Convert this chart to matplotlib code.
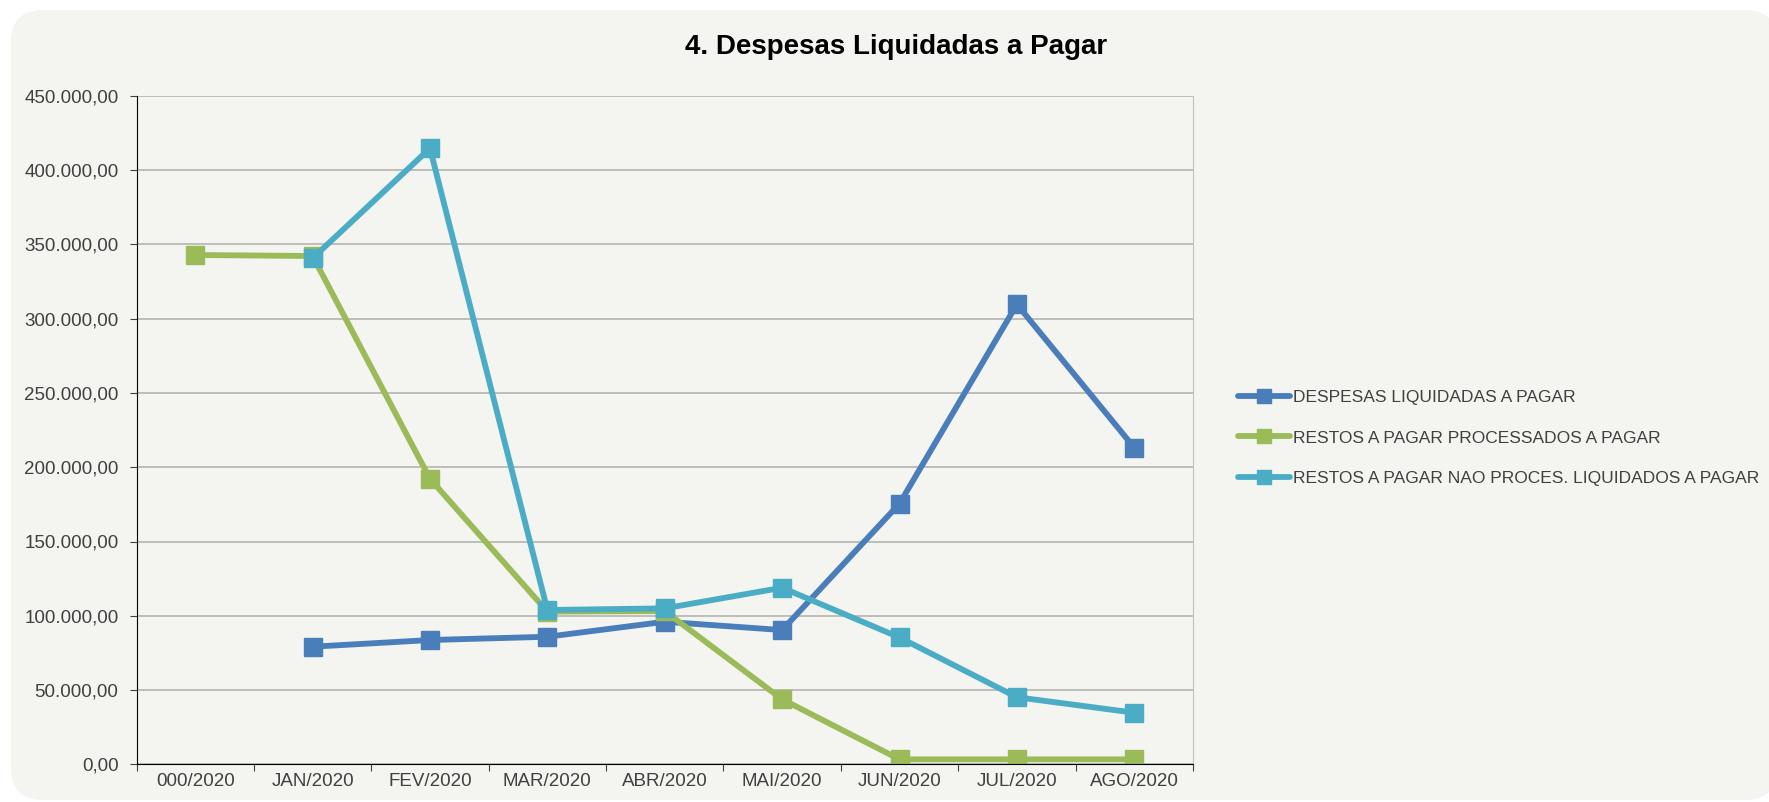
import numpy as np
import matplotlib.pyplot as plt
from matplotlib.patches import FancyBboxPatch
from matplotlib.ticker import FuncFormatter, FixedLocator

plt.rcParams['font.family'] = ['Liberation Sans', 'DejaVu Sans']

# dados
meses = ['000/2020', 'JAN/2020', 'FEV/2020', 'MAR/2020', 'ABR/2020',
         'MAI/2020', 'JUN/2020', 'JUL/2020', 'AGO/2020']
despesas_liq = [np.nan, 79200, 83700, 85900, 96000, 90400, 175500, 309600, 213100]
rp_processados = [342800, 342100, 192200, 102800, 103200, 43800, 3400, 3400, 3400]
rp_nao_proces = [np.nan, 340600, 414600, 103900, 105000, 118900, 85400, 45200, 34800]

series = [
    ('DESPESAS LIQUIDADAS A PAGAR', despesas_liq, '#4a7ebb'),
    ('RESTOS A PAGAR PROCESSADOS A PAGAR', rp_processados, '#9bbb59'),
    ('RESTOS A PAGAR NAO PROCES. LIQUIDADOS A PAGAR', rp_nao_proces, '#4bacc6'),
]

W, H = 1769, 802
fig = plt.figure(figsize=(W / 100, H / 100), dpi=100)
fig.patch.set_facecolor('white')

# painel de fundo arredondado (coordenadas em polegadas)
painel = FancyBboxPatch((0.11, 0.02), 17.66, 7.90,
                        boxstyle='round,pad=0,rounding_size=0.32',
                        transform=fig.dpi_scale_trans, facecolor='#f4f4f0',
                        edgecolor='none', zorder=-10)
fig.patches.append(painel)

ax = fig.add_axes([136.5 / W, 37.6 / H, (1193 - 136.5) / W, (764.4 - 95.7) / H])
ax.set_facecolor('none')
ax.set_zorder(1)

x = np.arange(len(meses)) + 0.5
for nome, vals, cor in series:
    ax.plot(x, vals, color=cor, lw=4.2, marker='s', markersize=13,
            solid_capstyle='round', label=nome)

ax.set_xlim(0, len(meses))
ax.set_ylim(0, 450000)
ax.set_yticks(np.arange(0, 450001, 50000))
ax.yaxis.set_major_formatter(FuncFormatter(
    lambda v, p: f'{v:,.2f}'.replace(',', 'X').replace('.', ',').replace('X', '.')))

ax.xaxis.set_major_locator(FixedLocator(np.arange(0, len(meses) + 1)))
ax.xaxis.set_minor_locator(FixedLocator(x))
ax.set_xticklabels([], minor=False)
ax.set_xticklabels(meses, minor=True)
ax.tick_params(axis='x', which='major', direction='out', length=5, color='#404040')
ax.tick_params(axis='x', which='minor', length=0, pad=6, labelsize=13.5, labelcolor='#404040')
ax.tick_params(axis='y', direction='out', length=5, pad=8, labelsize=13.5,
               labelcolor='#404040', color='#404040')

ax.grid(axis='y', color='#b4b4b0', lw=1.2)
ax.set_axisbelow(True)
ax.spines['top'].set_visible(False)
ax.spines['right'].set_color('#c0c0c0')
ax.spines['left'].set_color('black')
ax.spines['bottom'].set_color('black')

fig.text(896 / W, 1 - 47 / H, '4. Despesas Liquidadas a Pagar', ha='center', va='center',
         fontsize=20, fontweight='bold', color='black')

fig.legend(loc='center left', bbox_to_anchor=(1222 / W, 1 - 438 / H), frameon=False,
           fontsize=12.5, handlelength=3.0, handletextpad=0.2, labelspacing=1.45,
           markerscale=0.75, labelcolor='#404040')

fig.savefig('out.png', dpi=100, facecolor=fig.get_facecolor())
